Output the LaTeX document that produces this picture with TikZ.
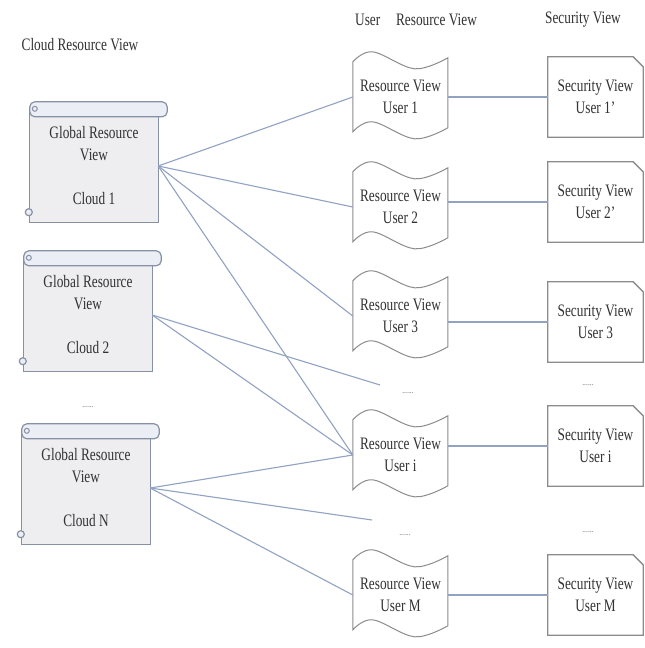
\documentclass[tikz,border=0pt]{standalone}
\usepackage{fontspec}
\setmainfont{Liberation Serif}[FakeStretch=0.76]
\usetikzlibrary{calc}
\definecolor{conncol}{RGB}{145,162,194}
\definecolor{scrollborder}{RGB}{135,145,165}
\definecolor{scrollfill}{RGB}{238,238,240}
\definecolor{barfill}{RGB}{236,238,246}
\definecolor{shapeborder}{RGB}{140,140,140}
\definecolor{txtcol}{RGB}{50,50,50}
\newcommand\drawscroll[1]{%
  \draw[scrollborder, line width=1.3pt] (#1.north west) -- (#1.south west) -- (#1.south east) -- (#1.north east);
  \draw[scrollborder, fill=barfill, line width=1.2pt, rounded corners=5pt] ($(#1.north west)+(0,-8)$) rectangle ($(#1.north east)+(9,7)$);
  \draw[scrollborder, line width=1pt] ($(#1.north west)+(5,-1)$) circle (2.5pt);
  \draw[scrollborder, fill=barfill, line width=1.2pt] ($(#1.south west)+(-1,-10)$) circle (3.5pt);}
\newcommand\drawtape[1]{%
  \draw[shapeborder, line width=1pt, shift={(#1.north west)}] plot[smooth, tension=0.6] coordinates {(0,0) (20,-10) (62,7) (95,-4)} -- plot[smooth, tension=0.6] coordinates {(95,66) (62,77) (20,60) (0,70)} -- cycle;}
\newcommand\drawsec[1]{%
  \draw[shapeborder, line width=1.3pt] (#1.south west) -- (#1.north west) -- ($(#1.north east)+(-10,0)$) -- ($(#1.north east)+(0,10)$) -- (#1.south east) -- cycle;}
\begin{document}
\begin{tikzpicture}[x=1pt,y=-1pt,
  every node/.style={font=\fontsize{17.5}{22}\selectfont, text=txtcol},
  scrollbody/.style={minimum width=128pt, minimum height=112pt, inner sep=0pt, align=center, fill=scrollfill},
  tapebox/.style={minimum width=95pt, minimum height=70pt, inner sep=0pt, align=center},
  secbox/.style={minimum width=95pt, minimum height=80pt, inner sep=0pt, align=center},
  dotsnode/.style={font=\fontsize{10}{10}\selectfont, text=gray},
  header/.style={inner sep=0pt},
  link/.style={draw=conncol, line width=1.1pt}]
\useasboundingbox[fill=white] (0,0) rectangle (645,648);

% headers
\node[header] (hc) at (80,45) {Cloud Resource View};
\node[header, anchor=west] (hu) at (355,20) {User\hspace{0.9em}Resource View};
\node[header] (hs) at (583,20) {Security View};

% cloud scrolls
\node[scrollbody] (c1) at (94,166) {Global Resource\\View\\[22pt]Cloud 1};
\drawscroll{c1}
\node[scrollbody] (c2) at (88,315) {Global Resource\\View\\[22pt]Cloud 2};
\drawscroll{c2}
\node[dotsnode] (dc) at (88,407) {......};
\node[scrollbody] (cN) at (86,488) {Global Resource\\View\\[22pt]Cloud N};
\drawscroll{cN}

% resource views
\node[tapebox] (r1) at (400.5,97) {Resource View\\User 1};
\drawtape{r1}
\node[tapebox] (r2) at (400.5,207) {Resource View\\User 2};
\drawtape{r2}
\node[tapebox] (r3) at (400.5,316) {Resource View\\User 3};
\drawtape{r3}
\node[dotsnode] (dr1) at (408,393) {......};
\node[tapebox] (ri) at (400.5,455) {Resource View\\User i};
\drawtape{ri}
\node[dotsnode] (dr2) at (405,535) {......};
\node[tapebox] (rM) at (400.5,595) {Resource View\\User M};
\drawtape{rM}

% security views
\node[secbox] (s1) at (595.5,97) {Security View\\User 1'};
\drawsec{s1}
\node[secbox] (s2) at (595.5,202) {Security View\\User 2'};
\drawsec{s2}
\node[secbox] (s3) at (595.5,322) {Security View\\User 3};
\drawsec{s3}
\node[dotsnode] (ds1) at (588,385) {......};
\node[secbox] (si) at (595.5,446) {Security View\\User i};
\drawsec{si}
\node[dotsnode] (ds2) at (588,532) {......};
\node[secbox] (sM) at (595.5,595) {Security View\\User M};
\drawsec{sM}

% free ends
\coordinate (e1) at (380,385);
\coordinate (e2) at (372,520);

% connectors
\draw[link] (c1.east) -- (r1.west);
\draw[link] (c1.east) -- (r2.west);
\draw[link] (c1.east) -- (r3.west);
\draw[link] (c1.east) -- (ri.west);
\draw[link] (c2.east) -- (e1);
\draw[link] (c2.east) -- (ri.west);
\draw[link] (cN.east) -- (ri.west);
\draw[link] (cN.east) -- (e2);
\draw[link] (cN.east) -- (rM.west);

\draw[link] (s1.west) -- (s1.west -| r1.east);
\draw[link] (s2.west) -- (s2.west -| r2.east);
\draw[link] (s3.west) -- (s3.west -| r3.east);
\draw[link] (si.west) -- (si.west -| ri.east);
\draw[link] (sM.west) -- (sM.west -| rM.east);
\end{tikzpicture}
\end{document}
